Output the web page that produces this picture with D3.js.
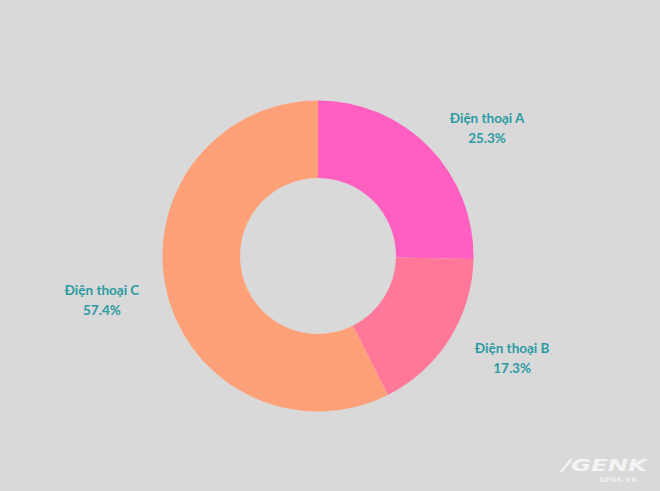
<!DOCTYPE html>
<html><head><meta charset="utf-8">
<script src="https://cdn.jsdelivr.net/npm/d3@7/dist/d3.min.js"></script>
<style>html,body{margin:0;padding:0;background:#d9d9d9;}svg{display:block;}</style>
</head><body>
<svg id="c" width="660" height="491"></svg>
<script>
const categories = ["Điện thoại A", "Điện thoại B", "Điện thoại C"];
const values = [25.3, 17.3, 57.4];
const colors = ["#ff5fc1", "#ff7899", "#ffa178"];

const W = 660, H = 491;
const cx = 318, cy = 256, R = 155.5, r = 78;
const svg = d3.select("#c");
svg.append("rect").attr("width", W).attr("height", H).attr("fill", "#d9d9d9");

const data = categories.map((c, i) => ({ cat: c, val: values[i], color: colors[i] }));
const pie = d3.pie().value(d => d.val).sort(null);
const arcs = pie(data);
const arc = d3.arc().innerRadius(r).outerRadius(R);
const g = svg.append("g").attr("transform", `translate(${cx},${cy})`);
g.selectAll("path").data(arcs).join("path")
  .attr("d", arc).attr("fill", d => d.data.color);

// label placement (best-fit outside)
const labelArc = d3.arc().innerRadius(220).outerRadius(220);
const nudge = [[12, 25], [8, -16], [-2, -8]];
const lg = g.selectAll("g.lab").data(arcs).join("g").attr("class", "lab")
  .attr("transform", (d, i) => {
    const [x, y] = labelArc.centroid(d);
    return `translate(${x + nudge[i][0]},${y + nudge[i][1]})`;
  });
lg.append("text").attr("text-anchor", "middle").attr("y", -4)
  .attr("font-family", "Lato, 'Open Sans', sans-serif").attr("font-weight", "bold")
  .attr("font-size", 13.5).attr("fill", "#2b9ba3")
  .text(d => d.data.cat);
lg.append("text").attr("text-anchor", "middle").attr("y", 16)
  .attr("font-family", "Lato, 'Open Sans', sans-serif").attr("font-weight", "bold")
  .attr("font-size", 13.5).attr("fill", "#2b9ba3")
  .text(d => d.data.val.toFixed(1) + "%");

// watermark
svg.append("text").attr("x", 562).attr("y", 471)
  .attr("font-family", "'DejaVu Sans', sans-serif").attr("font-weight", "bold")
  .attr("font-style", "italic").attr("font-size", 15).attr("fill", "#f4f4f4")
  .attr("textLength", 85).attr("lengthAdjust", "spacingAndGlyphs").text("/GENK");
svg.append("text").attr("x", 599).attr("y", 482)
  .attr("font-family", "'DejaVu Sans', sans-serif").attr("font-weight", "bold")
  .attr("font-size", 6.5).attr("fill", "#f0f0f0")
  .attr("textLength", 38).attr("lengthAdjust", "spacing")
  .text("GENK.VN");
</script>
</body></html>
